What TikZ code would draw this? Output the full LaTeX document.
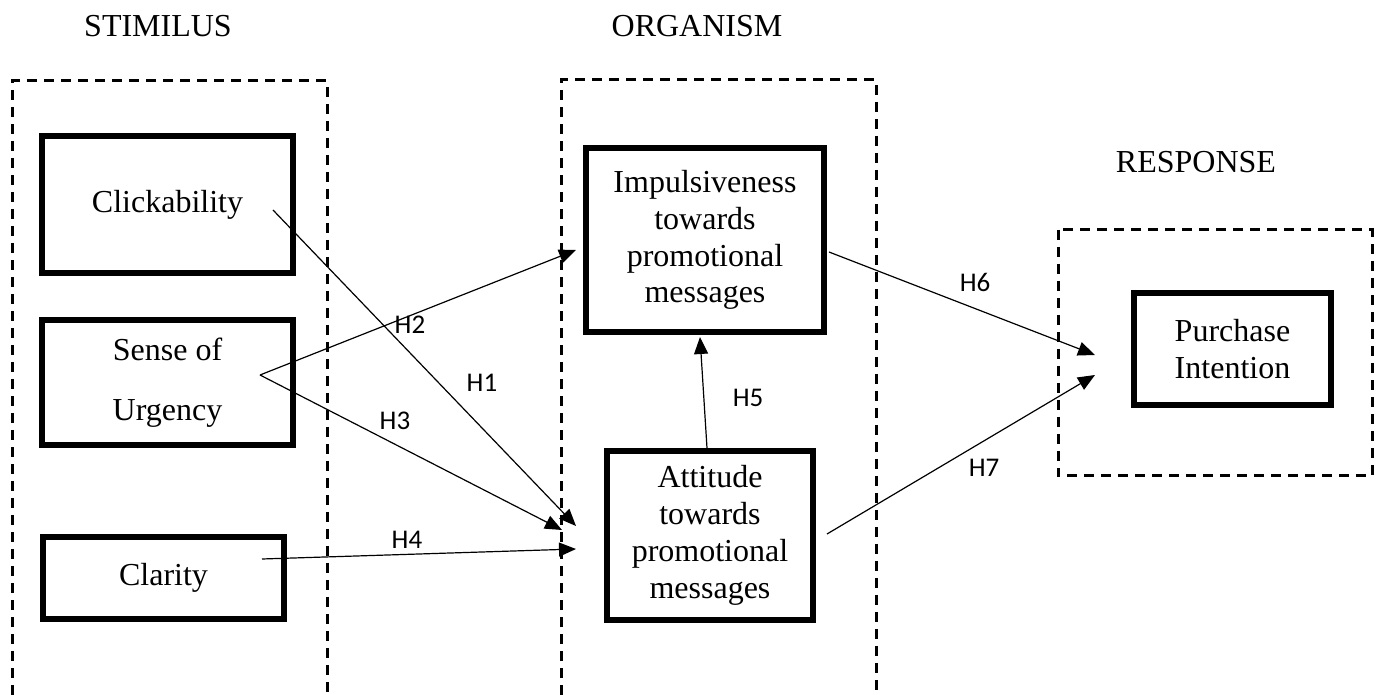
\documentclass[tikz,border=0pt]{standalone}
\usepackage{fontspec}
\setmainfont{Liberation Serif}
\newfontfamily\hypfont{Carlito}
\usetikzlibrary{shapes,arrows.meta,positioning}

\begin{document}
\begin{tikzpicture}[x=0.5pt,y=-0.5pt,
  factor/.style={draw,line width=2.8pt,align=center,inner sep=0pt,
    font=\fontsize{16}{18.4}\selectfont},
  block/.style={line width=1.5pt,dash pattern=on 5pt off 3.5pt},
  hyp/.style={-{Triangle[length=8.5pt,width=7pt]},line width=0.6pt},
  hlabel/.style={font=\hypfont\fontsize{13.5}{16}\selectfont},
  head/.style={font=\fontsize{16}{18}\selectfont}]
\useasboundingbox (0,0) rectangle (1378,695);

% Headings
\node[head] (stimhead) at (158,26) {STIMILUS};
\node[head] (orghead) at (697,26) {ORGANISM};
\node[head] (resphead) at (1196,162) {RESPONSE};

% Dashed blocks (open at the bottom edge)
\draw[block] (12,695) -- (12,81) -- (327,81) -- (327,695);
\draw[block] (561,695) -- (561,80) -- (876,80) -- (876,695);
\draw[block] (1058,230) rectangle (1372,476);

% Stimulus factors
\node[factor,minimum width=125.5pt,minimum height=68.5pt] (click) at (167.5,204.5) {Clickability};
\node[factor,minimum width=125.5pt,minimum height=62.5pt] (urgency) at (167.5,382.5) {Sense of\\[11.6pt]Urgency};
\node[factor,minimum width=120.5pt,minimum height=41pt] (clarity) at (163.5,578) {Clarity};

% Organism factors
\node[factor,minimum width=119pt,minimum height=92pt] (impulse) at (705,240) {Impulsiveness\\towards\\promotional\\messages};
\node[factor,minimum width=103pt,minimum height=84.5pt] (attitude) at (710,535.5) {Attitude\\towards\\promotional\\messages};

% Response
\node[factor,minimum width=98.5pt,minimum height=56pt] (purchase) at (1232.5,349) {Purchase\\Intention};

% Arrow ends
\coordinate (h1s) at (273,210);
\coordinate (h1e) at (576,526);
\coordinate (fork) at (260,375);
\coordinate (h2e) at (576,250);
\coordinate (h3e) at (562,530);
\coordinate (h4s) at (262,559);
\coordinate (h4e) at (576,549);
\coordinate (h5s) at (707,448);
\coordinate (h5e) at (700,337);
\coordinate (h6s) at (829,252);
\coordinate (h6e) at (1095,355);
\coordinate (h7s) at (827,534);
\coordinate (h7e) at (1095,375);

% Hypotheses
\draw[hyp] (h1s) -- (h1e);
\draw[hyp] (fork) -- (h2e);
\draw[hyp] (fork) -- (h3e);
\draw[hyp] (h4s) -- (h4e);
\draw[hyp] (h5s) -- (h5e);
\draw[hyp] (h6s) -- (h6e);
\draw[hyp] (h7s) -- (h7e);

\node[hlabel] (lh1) at (482,383) {H1};
\node[hlabel] (lh2) at (410,325) {H2};
\node[hlabel] (lh3) at (395,421) {H3};
\node[hlabel] (lh4) at (407,540) {H4};
\node[hlabel] (lh5) at (748,398) {H5};
\node[hlabel] (lh6) at (975,282) {H6};
\node[hlabel] (lh7) at (984,468) {H7};
\end{tikzpicture}
\end{document}
